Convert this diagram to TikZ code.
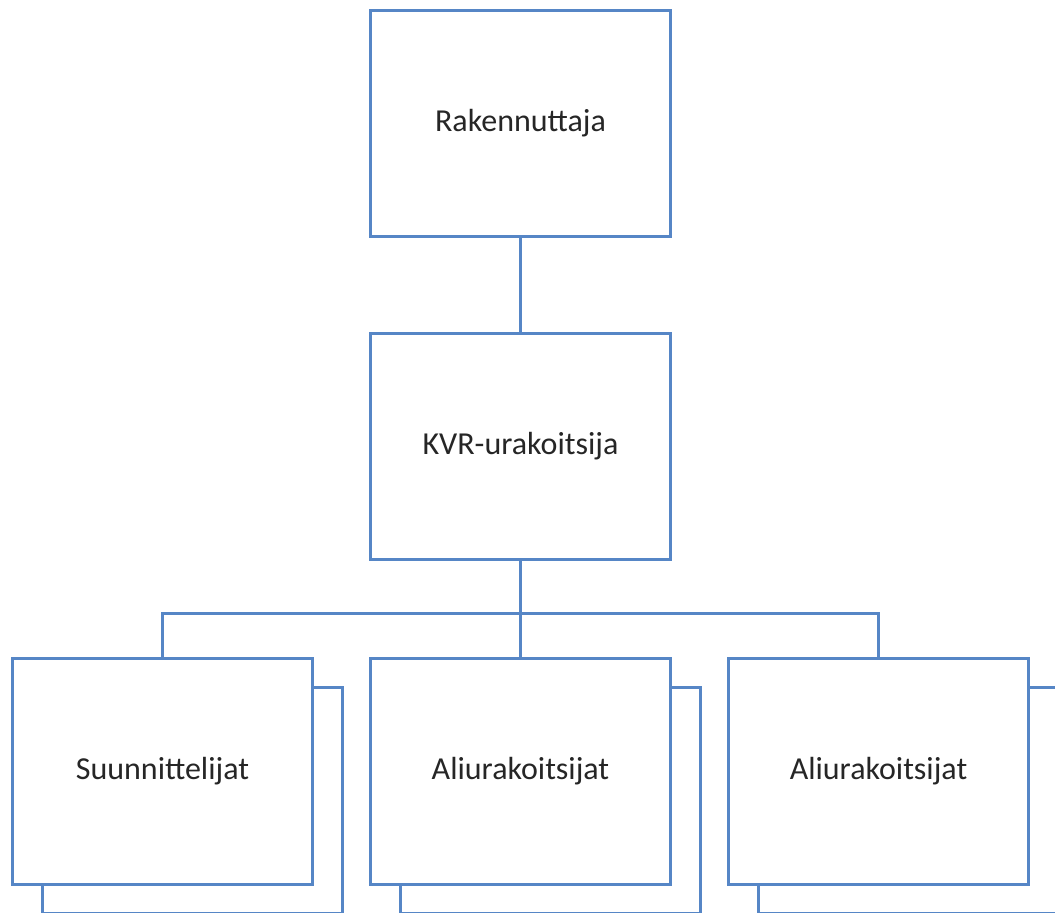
\documentclass[tikz,border=0pt]{standalone}
\usepackage{fontspec}
\setmainfont{Carlito}
\definecolor{boxline}{RGB}{86,134,198}
\definecolor{boxtext}{RGB}{38,38,38}

\begin{document}
\begin{tikzpicture}[
		x=1pt, y=-1pt,
		orgbox/.style={draw=boxline, line width=3pt, fill=white, minimum width=300pt, minimum height=226pt, inner sep=0pt, text=boxtext, font=\fontsize{32}{38}\selectfont},
		link/.style={draw=boxline, line width=3pt}
		]
		
		% page frame, same size as the reference
		\useasboundingbox (0,0) rectangle (1055,913);
		\clip (0,0) rectangle (1055,913);
		
		% ==========================================
		% 1. UPPER LEVELS
		% ==========================================
		\node[orgbox] (rak) at (520.5,123) {Rakennuttaja};
		\node[orgbox] (kvr) at (520.5,446.5) {KVR-urakoitsija};
		\draw[link] (rak.south) -- (kvr.north);
		
		% ==========================================
		% 2. LOWER LEVEL (stacked boxes)
		% ==========================================
		% Data format: index / centre x / label
		\foreach \i/\cx/\lbl in {
			1/162.5/Suunnittelijat,
			2/520.5/Aliurakoitsijat,
			3/878.5/Aliurakoitsijat%
		} {
			% box behind, shifted right and down
			\node[orgbox] (shd-\i) at (\cx+30, 800) {};
			\node[orgbox] (sub-\i) at (\cx, 771.5) {\lbl};
		}
		
		% ==========================================
		% 3. CONNECTORS TO LOWER LEVEL
		% ==========================================
		\coordinate (bus) at (520.5,613);
		\draw[link] (kvr.south) -- (bus);
		\foreach \i in {1,2,3} {
			\draw[link] (bus) -| (sub-\i.north);
		}
		
	\end{tikzpicture}
\end{document}
